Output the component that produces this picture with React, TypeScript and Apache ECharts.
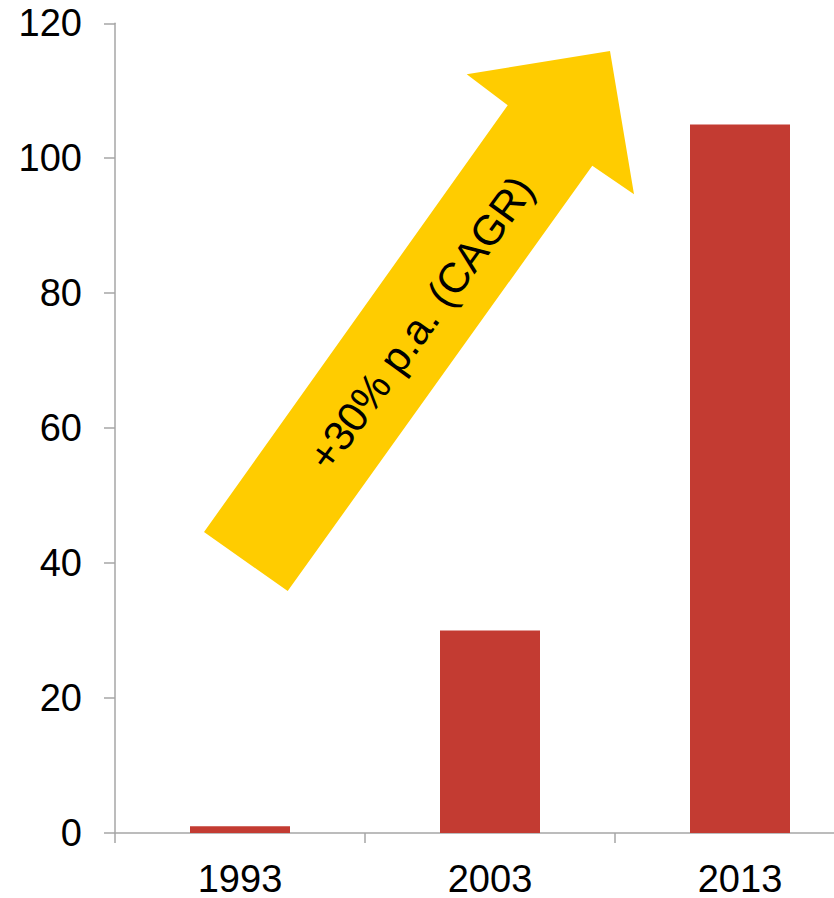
import React, { useEffect, useRef } from "react";
import * as echarts from "echarts";

const categories = ["1993", "2003", "2013"];
const values = [1, 30, 105];
const yTicks = { min: 0, max: 120, interval: 20 };
const arrowLabel = "+30% p.a. (CAGR)";

export default function App() {
  const ref = useRef<HTMLDivElement>(null);
  useEffect(() => {
    document.body.style.margin = "0";
    const chart = echarts.init(ref.current!, null, { renderer: "svg" });
    const font = "'Liberation Sans', Arial, sans-serif";
    const axisGray = "#A6A6A6";
    chart.setOption({
      animation: false,
      grid: { left: 115, top: 23.3, width: 750, height: 812.4 },
      xAxis: {
        type: "category",
        data: categories,
        axisLine: { show: true, lineStyle: { color: axisGray, width: 1.5 } },
        axisTick: { show: true, length: 10, alignWithLabel: false, lineStyle: { color: axisGray, width: 1.5 } },
        axisLabel: { color: "#000", fontSize: 38, lineHeight: 30, fontFamily: font, margin: 31 },
        splitLine: { show: false },
      },
      yAxis: {
        type: "value",
        min: yTicks.min,
        max: yTicks.max,
        interval: yTicks.interval,
        axisLine: { show: true, lineStyle: { color: axisGray, width: 1.5 } },
        axisTick: { show: true, length: 11, lineStyle: { color: axisGray, width: 1.5 } },
        axisLabel: { color: "#000", fontSize: 38, fontFamily: font, margin: 33 },
        splitLine: { show: false },
      },
      series: [
        {
          type: "bar",
          data: values,
          barWidth: "40%",
          itemStyle: { color: "#C33B32" },
        },
      ],
      graphic: [
        {
          type: "polygon",
          z: 100,
          shape: {
            points: [
              [204, 532],
              [507.7, 105.3],
              [466.7, 74.3],
              [610, 51],
              [634, 194.3],
              [592.3, 165.7],
              [287.7, 591],
            ],
          },
          style: { fill: "#FFCC00" },
        },
        {
          type: "text",
          z: 101,
          x: 421,
          y: 323,
          rotation: (54 * Math.PI) / 180,
          style: {
            text: arrowLabel,
            fill: "#000",
            fontSize: 42,
            fontFamily: font,
            align: "center",
            verticalAlign: "middle",
          },
        },
      ],
    });
    return () => chart.dispose();
  }, []);
  return (
    <div style={{ width: 834, height: 898, overflow: "hidden" }}>
      <div ref={ref} style={{ width: 870, height: 898 }} />
    </div>
  );
}
